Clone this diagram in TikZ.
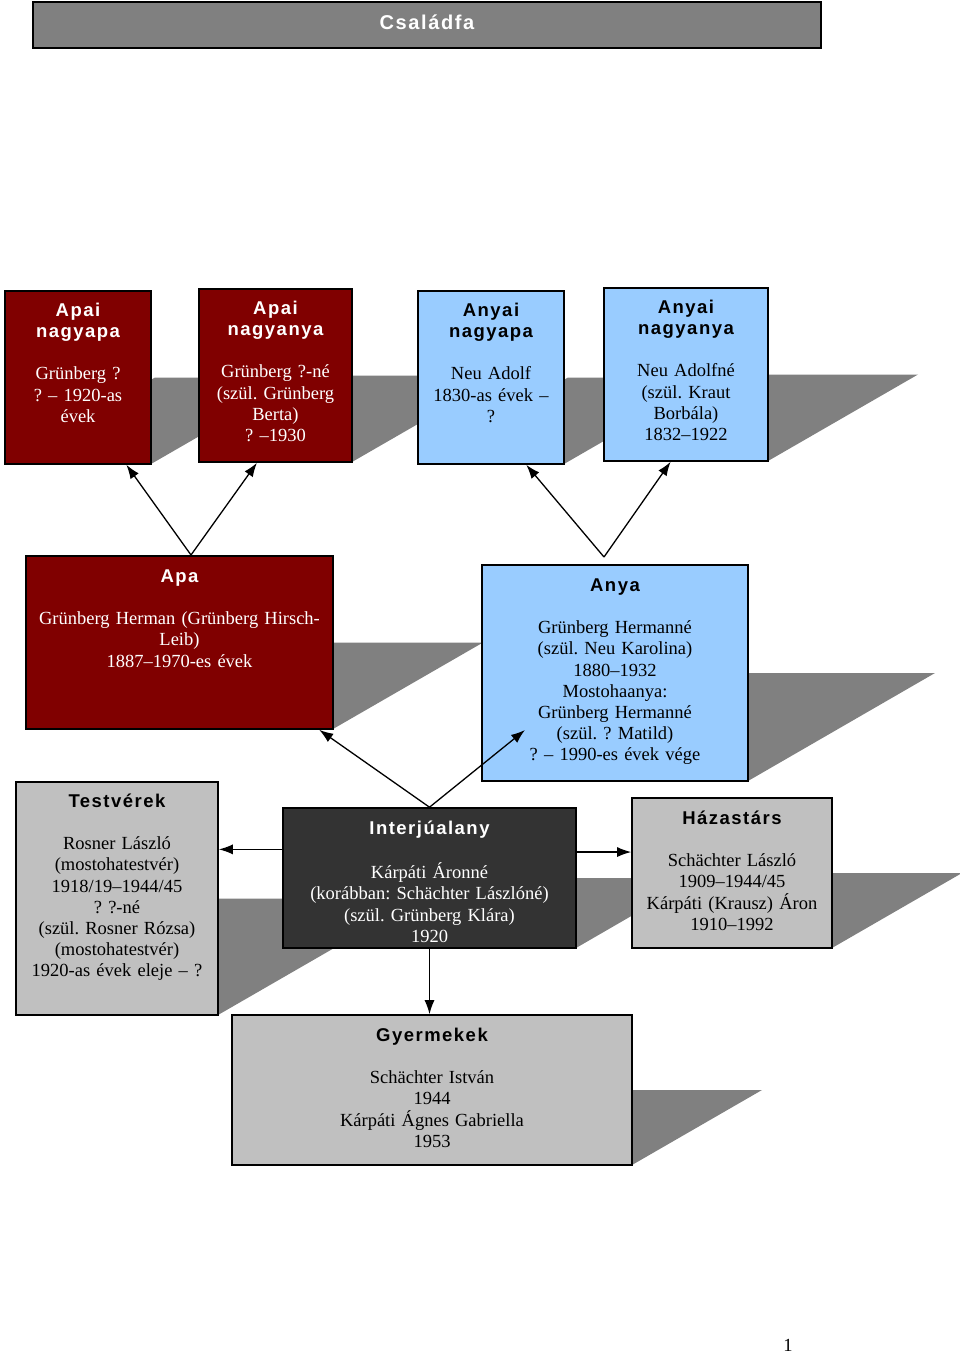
\documentclass[tikz,border=0pt]{standalone}
\usepackage{fontspec}
\setmainfont{Liberation Serif}
\newfontfamily\hdfont[LetterSpace=8]{Liberation Sans}
\usetikzlibrary{positioning,arrows.meta}
\frenchspacing
\definecolor{kinred}{RGB}{128,0,0}
\definecolor{kinblue}{RGB}{153,204,255}
\definecolor{kingray}{RGB}{192,192,192}
\definecolor{kindark}{RGB}{51,51,51}
\definecolor{kinshadow}{RGB}{128,128,128}
\newcommand{\kinhead}[1]{{\hdfont\bfseries #1}}
\tikzset{
  kinbox/.style={draw=black, line width=1.6pt, inner sep=0pt},
  redbox/.style={kinbox, fill=kinred},
  bluebox/.style={kinbox, fill=kinblue},
  graybox/.style={kinbox, fill=kingray},
  darkbox/.style={kinbox, fill=kindark},
  kinshade/.style={fill=kinshadow},
  kintext/.style={align=center, inner sep=0pt, font=\fontsize{18.5}{21.2}\selectfont},
  kinarrow/.style={line width=1.3pt, -{Latex[length=14pt,width=10pt]}},
}
\begin{document}
\begin{tikzpicture}[x=1pt,y=-1pt]
            \useasboundingbox (0,0) rectangle (960,1355);
            
            % Shadows behind the boxes
            \fill [kinshade] (5,464) -- (151,464) -- (301,377.5) -- (155,377.5) -- cycle;%
            \fill [kinshade] (199,462) -- (352,462) -- (502,375.5) -- (349,375.5) -- cycle;%
            \fill [kinshade] (418,464) -- (564,464) -- (714,377.5) -- (568,377.5) -- cycle;%
            \fill [kinshade] (604,461) -- (768,461) -- (918,374.5) -- (754,374.5) -- cycle;%
            \fill [kinshade] (26,729) -- (333,729) -- (483,642.5) -- (176,642.5) -- cycle;%
            \fill [kinshade] (482,781) -- (748,781) -- (935,673) -- (669,673) -- cycle;%
            \fill [kinshade] (16,1015) -- (218,1015) -- (420,898.5) -- (218,898.5) -- cycle;%
            \fill [kinshade] (283,948) -- (576,948) -- (697,878) -- (404,878) -- cycle;%
            \fill [kinshade] (632,948) -- (832,948) -- (962,873) -- (762,873) -- cycle;%
            \fill [kinshade] (232,1165) -- (632,1165) -- (762,1090) -- (362,1090) -- cycle;%
            
            % Title bar
            \node (title) [kinbox, fill=kinshadow, minimum width=788pt, minimum height=46pt] at (427,25) {};%
            \node (titletext) [anchor=base, text=white, font=\hdfont\bfseries\fontsize{20}{24}\selectfont] at (427,29) {Családfa};%
            
            % Grandparents
            \node (apnp) [redbox, minimum width=146pt, minimum height=173pt] at (78,377.5) {};%
            \node (apnptext) [kintext, text=white, text width=146pt, below=11pt of apnp.north] {\strut\kinhead{Apai}\\\kinhead{nagyapa}\\[21.2pt]Grünberg ?\\? – 1920-as\\évek};%
            
            \node (apna) [redbox, minimum width=153pt, minimum height=173pt] at (275.5,375.5) {};%
            \node (apnatext) [kintext, text=white, text width=153pt, below=11pt of apna.north] {\strut\kinhead{Apai}\\\kinhead{nagyanya}\\[21.2pt]Grünberg ?-né\\(szül. Grünberg\\Berta)\\? –1930};%
            
            \node (annp) [bluebox, minimum width=146pt, minimum height=173pt] at (491,377.5) {};%
            \node (annptext) [kintext, text width=146pt, below=11pt of annp.north] {\strut\kinhead{Anyai}\\\kinhead{nagyapa}\\[21.2pt]Neu Adolf\\1830-as évek –\\?};%
            
            \node (anna) [bluebox, minimum width=164pt, minimum height=173pt] at (686,374.5) {};%
            \node (annatext) [kintext, text width=164pt, below=11pt of anna.north] {\strut\kinhead{Anyai}\\\kinhead{nagyanya}\\[21.2pt]Neu Adolfné\\(szül. Kraut\\Borbála)\\1832–1922};%
            
            % Parents
            \node (apa) [redbox, minimum width=307pt, minimum height=173pt] at (179.5,642.5) {};%
            \node (apatext) [kintext, text=white, text width=307pt, below=12pt of apa.north] {\strut\kinhead{Apa}\\[21.2pt]Grünberg Herman (Grünberg Hirsch-\\Leib)\\1887–1970-es évek};%
            
            \node (anya) [bluebox, minimum width=266pt, minimum height=216pt] at (615,673) {};%
            \node (anyatext) [kintext, text width=266pt, below=12pt of anya.north] {\strut\kinhead{Anya}\\[21.2pt]Grünberg Hermanné\\(szül. Neu Karolina)\\1880–1932\\Mostohaanya:\\Grünberg Hermanné\\(szül. ? Matild)\\? – 1990-es évek vége};%
            
            % Interviewee, siblings, spouse
            \node (testv) [graybox, minimum width=202pt, minimum height=233pt] at (117,898.5) {};%
            \node (testvtext) [kintext, text width=202pt, below=11pt of testv.north] {\strut\kinhead{Testvérek}\\[21.2pt]Rosner László\\(mostohatestvér)\\1918/19–1944/45\\? ?-né\\(szül. Rosner Rózsa)\\(mostohatestvér)\\1920-as évek eleje – ?};%
            
            \node (interj) [darkbox, minimum width=293pt, minimum height=140pt] at (429.5,878) {};%
            \node (interjtext) [kintext, text=white, text width=293pt, below=12pt of interj.north] {\strut\kinhead{Interjúalany}\\[21.2pt]Kárpáti Áronné\\(korábban: Schächter Lászlóné)\\(szül. Grünberg Klára)\\1920};%
            
            \node (hazas) [graybox, minimum width=200pt, minimum height=150pt] at (732,873) {};%
            \node (hazastext) [kintext, text width=200pt, below=12pt of hazas.north] {\strut\kinhead{Házastárs}\\[21.2pt]Schächter László\\1909–1944/45\\Kárpáti (Krausz) Áron\\1910–1992};%
            
            % Children
            \node (gyerm) [graybox, minimum width=400pt, minimum height=150pt] at (432,1090) {};%
            \node (gyermtext) [kintext, text width=400pt, below=12pt of gyerm.north] {\strut\kinhead{Gyermekek}\\[21.2pt]Schächter István\\1944\\Kárpáti Ágnes Gabriella\\1953};%
            
            % Page number
            \node (pagenum) [kintext] at (788,1345) {1};%
            
            % Connectors
            \coordinate (apafork) at (191,555);%
            \coordinate (anyafork) at (604,557);%
            \coordinate (anyaend) at (525,730);%
            \draw [kinarrow] (apafork) -- (apnp.-61);%
            \draw [kinarrow] (apafork) -- (apna.-102);%
            \draw [kinarrow] (anyafork) -- (annp.-68);%
            \draw [kinarrow] (anyafork) -- (anna.-100.5);%
            \draw [kinarrow] (interj.north) -- (apa.-32.7);%
            \draw [kinarrow] (interj.north) -- (anyaend);%
            \draw [kinarrow] (interj.169.6) -- (interj.169.6 -| testv.east);%
            \draw [kinarrow] (interj.10.4) -- (interj.10.4 -| hazas.west);%
            \draw [kinarrow] (interj.south) -- (interj.south |- gyerm.north);%
\end{tikzpicture}
\end{document}
